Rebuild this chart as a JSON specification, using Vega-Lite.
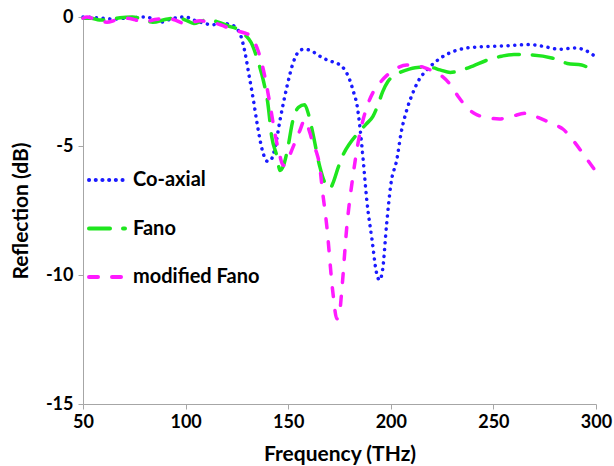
{
  "$schema": "https://vega.github.io/schema/vega-lite/v6.json",
  "width": 513,
  "height": 387,
  "autosize": {"type": "none"},
  "padding": {"left": 83, "top": 17, "right": 18, "bottom": 62},
  "background": "white",
  "config": {
    "view": {"stroke": null},
    "font": "Lato",
    "axis": {
      "grid": false,
      "domainColor": "#a6a6a6",
      "tickColor": "#a6a6a6",
      "tickSize": 5,
      "labelFlush": false,
      "labelFont": "Lato",
      "labelFontWeight": "bold",
      "labelFontSize": 18,
      "labelColor": "black",
      "titleFont": "Lato",
      "titleFontWeight": "bold",
      "titleFontSize": 21,
      "titleColor": "black"
    },
    "legend": {
      "title": null,
      "orient": "none",
      "legendX": 4,
      "legendY": 144,
      "symbolType": "stroke",
      "symbolSize": 1296,
      "symbolStrokeWidth": 4,
      "clipHeight": 38,
      "labelFont": "Lato",
      "labelFontWeight": "bold",
      "labelFontSize": 20,
      "labelColor": "black",
      "labelOffset": 6,
      "rowPadding": 10.5
    }
  },
  "data": {
    "values": [
      {"f": 50, "r": 0, "s": "Co-axial"},
      {"f": 55, "r": -0.02, "s": "Co-axial"},
      {"f": 60, "r": -0.05, "s": "Co-axial"},
      {"f": 65, "r": -0.08, "s": "Co-axial"},
      {"f": 70, "r": -0.05, "s": "Co-axial"},
      {"f": 75, "r": -0.02, "s": "Co-axial"},
      {"f": 81, "r": 0, "s": "Co-axial"},
      {"f": 85, "r": -0.12, "s": "Co-axial"},
      {"f": 88, "r": -0.2, "s": "Co-axial"},
      {"f": 92, "r": -0.1, "s": "Co-axial"},
      {"f": 96, "r": -0.02, "s": "Co-axial"},
      {"f": 100, "r": 0, "s": "Co-axial"},
      {"f": 104, "r": -0.12, "s": "Co-axial"},
      {"f": 108, "r": -0.22, "s": "Co-axial"},
      {"f": 113, "r": -0.3, "s": "Co-axial"},
      {"f": 118, "r": -0.25, "s": "Co-axial"},
      {"f": 122, "r": -0.3, "s": "Co-axial"},
      {"f": 125, "r": -0.45, "s": "Co-axial"},
      {"f": 127, "r": -0.75, "s": "Co-axial"},
      {"f": 129, "r": -1.4, "s": "Co-axial"},
      {"f": 131, "r": -2.3, "s": "Co-axial"},
      {"f": 133, "r": -3.2, "s": "Co-axial"},
      {"f": 135, "r": -4.2, "s": "Co-axial"},
      {"f": 137.5, "r": -5.2, "s": "Co-axial"},
      {"f": 140, "r": -5.6, "s": "Co-axial"},
      {"f": 141.5, "r": -5.55, "s": "Co-axial"},
      {"f": 143.5, "r": -5.1, "s": "Co-axial"},
      {"f": 146, "r": -4.0, "s": "Co-axial"},
      {"f": 149.4, "r": -2.7, "s": "Co-axial"},
      {"f": 152.3, "r": -1.8, "s": "Co-axial"},
      {"f": 155, "r": -1.35, "s": "Co-axial"},
      {"f": 157.5, "r": -1.25, "s": "Co-axial"},
      {"f": 161, "r": -1.3, "s": "Co-axial"},
      {"f": 165, "r": -1.5, "s": "Co-axial"},
      {"f": 169, "r": -1.67, "s": "Co-axial"},
      {"f": 175, "r": -1.85, "s": "Co-axial"},
      {"f": 178, "r": -2.1, "s": "Co-axial"},
      {"f": 180, "r": -2.44, "s": "Co-axial"},
      {"f": 182, "r": -2.95, "s": "Co-axial"},
      {"f": 183.5, "r": -3.4, "s": "Co-axial"},
      {"f": 185, "r": -4.3, "s": "Co-axial"},
      {"f": 186.5, "r": -5.5, "s": "Co-axial"},
      {"f": 188.3, "r": -7.1, "s": "Co-axial"},
      {"f": 190.8, "r": -8.6, "s": "Co-axial"},
      {"f": 193, "r": -9.9, "s": "Co-axial"},
      {"f": 194.5, "r": -10.2, "s": "Co-axial"},
      {"f": 196, "r": -9.8, "s": "Co-axial"},
      {"f": 198, "r": -8.0, "s": "Co-axial"},
      {"f": 200, "r": -6.5, "s": "Co-axial"},
      {"f": 203, "r": -5.5, "s": "Co-axial"},
      {"f": 205, "r": -4.5, "s": "Co-axial"},
      {"f": 207.8, "r": -3.6, "s": "Co-axial"},
      {"f": 210.7, "r": -2.95, "s": "Co-axial"},
      {"f": 214, "r": -2.4, "s": "Co-axial"},
      {"f": 217.6, "r": -2.05, "s": "Co-axial"},
      {"f": 225, "r": -1.55, "s": "Co-axial"},
      {"f": 231, "r": -1.32, "s": "Co-axial"},
      {"f": 237, "r": -1.2, "s": "Co-axial"},
      {"f": 245, "r": -1.15, "s": "Co-axial"},
      {"f": 255, "r": -1.12, "s": "Co-axial"},
      {"f": 268, "r": -1.07, "s": "Co-axial"},
      {"f": 275, "r": -1.15, "s": "Co-axial"},
      {"f": 282, "r": -1.25, "s": "Co-axial"},
      {"f": 290, "r": -1.2, "s": "Co-axial"},
      {"f": 295, "r": -1.3, "s": "Co-axial"},
      {"f": 300, "r": -1.55, "s": "Co-axial"},

      {"f": 50, "r": -0.05, "s": "Fano"},
      {"f": 54, "r": -0.05, "s": "Fano"},
      {"f": 58, "r": -0.12, "s": "Fano"},
      {"f": 63, "r": -0.1, "s": "Fano"},
      {"f": 68, "r": -0.03, "s": "Fano"},
      {"f": 74, "r": 0, "s": "Fano"},
      {"f": 79, "r": -0.08, "s": "Fano"},
      {"f": 84, "r": -0.2, "s": "Fano"},
      {"f": 90, "r": -0.1, "s": "Fano"},
      {"f": 96, "r": -0.03, "s": "Fano"},
      {"f": 100, "r": -0.12, "s": "Fano"},
      {"f": 104, "r": -0.25, "s": "Fano"},
      {"f": 108, "r": -0.15, "s": "Fano"},
      {"f": 111, "r": -0.1, "s": "Fano"},
      {"f": 116, "r": -0.2, "s": "Fano"},
      {"f": 121, "r": -0.35, "s": "Fano"},
      {"f": 126, "r": -0.5, "s": "Fano"},
      {"f": 129, "r": -0.7, "s": "Fano"},
      {"f": 132, "r": -1.0, "s": "Fano"},
      {"f": 134, "r": -1.4, "s": "Fano"},
      {"f": 136, "r": -1.9, "s": "Fano"},
      {"f": 138, "r": -2.5, "s": "Fano"},
      {"f": 140, "r": -3.3, "s": "Fano"},
      {"f": 142, "r": -4.65, "s": "Fano"},
      {"f": 144.5, "r": -5.4, "s": "Fano"},
      {"f": 146, "r": -5.95, "s": "Fano"},
      {"f": 147.5, "r": -5.8, "s": "Fano"},
      {"f": 149.5, "r": -5.2, "s": "Fano"},
      {"f": 152.3, "r": -4.0, "s": "Fano"},
      {"f": 155, "r": -3.5, "s": "Fano"},
      {"f": 158, "r": -3.4, "s": "Fano"},
      {"f": 160, "r": -3.8, "s": "Fano"},
      {"f": 162, "r": -4.5, "s": "Fano"},
      {"f": 165.4, "r": -5.8, "s": "Fano"},
      {"f": 168, "r": -6.45, "s": "Fano"},
      {"f": 170.3, "r": -6.65, "s": "Fano"},
      {"f": 172, "r": -6.4, "s": "Fano"},
      {"f": 174.5, "r": -5.8, "s": "Fano"},
      {"f": 177, "r": -5.3, "s": "Fano"},
      {"f": 180, "r": -4.9, "s": "Fano"},
      {"f": 184, "r": -4.5, "s": "Fano"},
      {"f": 188, "r": -4.15, "s": "Fano"},
      {"f": 191.3, "r": -3.85, "s": "Fano"},
      {"f": 194, "r": -3.35, "s": "Fano"},
      {"f": 196, "r": -2.9, "s": "Fano"},
      {"f": 198.6, "r": -2.5, "s": "Fano"},
      {"f": 201, "r": -2.3, "s": "Fano"},
      {"f": 204.4, "r": -2.15, "s": "Fano"},
      {"f": 209, "r": -2.02, "s": "Fano"},
      {"f": 214, "r": -1.95, "s": "Fano"},
      {"f": 219, "r": -1.95, "s": "Fano"},
      {"f": 224, "r": -2.05, "s": "Fano"},
      {"f": 229, "r": -2.15, "s": "Fano"},
      {"f": 234, "r": -2.07, "s": "Fano"},
      {"f": 240, "r": -1.9, "s": "Fano"},
      {"f": 247, "r": -1.67, "s": "Fano"},
      {"f": 254, "r": -1.52, "s": "Fano"},
      {"f": 260, "r": -1.45, "s": "Fano"},
      {"f": 269, "r": -1.47, "s": "Fano"},
      {"f": 279, "r": -1.6, "s": "Fano"},
      {"f": 286, "r": -1.8, "s": "Fano"},
      {"f": 293, "r": -1.86, "s": "Fano"},
      {"f": 300, "r": -2.2, "s": "Fano"},

      {"f": 50, "r": -0.05, "s": "modified Fano"},
      {"f": 52, "r": 0, "s": "modified Fano"},
      {"f": 56, "r": -0.1, "s": "modified Fano"},
      {"f": 61.7, "r": -0.2, "s": "modified Fano"},
      {"f": 66, "r": -0.12, "s": "modified Fano"},
      {"f": 71.4, "r": -0.05, "s": "modified Fano"},
      {"f": 75, "r": -0.1, "s": "modified Fano"},
      {"f": 79.2, "r": -0.2, "s": "modified Fano"},
      {"f": 85, "r": -0.1, "s": "modified Fano"},
      {"f": 91, "r": -0.05, "s": "modified Fano"},
      {"f": 95, "r": -0.12, "s": "modified Fano"},
      {"f": 98.7, "r": -0.23, "s": "modified Fano"},
      {"f": 103, "r": -0.2, "s": "modified Fano"},
      {"f": 107, "r": -0.15, "s": "modified Fano"},
      {"f": 112, "r": -0.2, "s": "modified Fano"},
      {"f": 117, "r": -0.3, "s": "modified Fano"},
      {"f": 123, "r": -0.5, "s": "modified Fano"},
      {"f": 128, "r": -0.6, "s": "modified Fano"},
      {"f": 131, "r": -0.7, "s": "modified Fano"},
      {"f": 133, "r": -0.9, "s": "modified Fano"},
      {"f": 135.2, "r": -1.28, "s": "modified Fano"},
      {"f": 138.6, "r": -2.3, "s": "modified Fano"},
      {"f": 141, "r": -3.33, "s": "modified Fano"},
      {"f": 143.5, "r": -4.5, "s": "modified Fano"},
      {"f": 146, "r": -5.4, "s": "modified Fano"},
      {"f": 147.5, "r": -5.75, "s": "modified Fano"},
      {"f": 149.5, "r": -5.6, "s": "modified Fano"},
      {"f": 151.8, "r": -5.15, "s": "modified Fano"},
      {"f": 155.7, "r": -4.4, "s": "modified Fano"},
      {"f": 158, "r": -4.0, "s": "modified Fano"},
      {"f": 160.6, "r": -4.5, "s": "modified Fano"},
      {"f": 162, "r": -4.9, "s": "modified Fano"},
      {"f": 164, "r": -5.3, "s": "modified Fano"},
      {"f": 165.4, "r": -5.8, "s": "modified Fano"},
      {"f": 166.5, "r": -6.6, "s": "modified Fano"},
      {"f": 168.8, "r": -8.1, "s": "modified Fano"},
      {"f": 171.8, "r": -10.7, "s": "modified Fano"},
      {"f": 173.7, "r": -11.7, "s": "modified Fano"},
      {"f": 175, "r": -11.5, "s": "modified Fano"},
      {"f": 176, "r": -10.7, "s": "modified Fano"},
      {"f": 178.6, "r": -8.1, "s": "modified Fano"},
      {"f": 181.5, "r": -6.2, "s": "modified Fano"},
      {"f": 184, "r": -4.9, "s": "modified Fano"},
      {"f": 188.3, "r": -3.5, "s": "modified Fano"},
      {"f": 191.5, "r": -2.9, "s": "modified Fano"},
      {"f": 194.7, "r": -2.55, "s": "modified Fano"},
      {"f": 199, "r": -2.2, "s": "modified Fano"},
      {"f": 203, "r": -1.98, "s": "modified Fano"},
      {"f": 207.8, "r": -1.86, "s": "modified Fano"},
      {"f": 212, "r": -1.88, "s": "modified Fano"},
      {"f": 216, "r": -1.95, "s": "modified Fano"},
      {"f": 220.5, "r": -2.1, "s": "modified Fano"},
      {"f": 225, "r": -2.3, "s": "modified Fano"},
      {"f": 228.8, "r": -2.6, "s": "modified Fano"},
      {"f": 233, "r": -3.1, "s": "modified Fano"},
      {"f": 237, "r": -3.5, "s": "modified Fano"},
      {"f": 241, "r": -3.75, "s": "modified Fano"},
      {"f": 245, "r": -3.87, "s": "modified Fano"},
      {"f": 253, "r": -3.95, "s": "modified Fano"},
      {"f": 259, "r": -3.85, "s": "modified Fano"},
      {"f": 266, "r": -3.73, "s": "modified Fano"},
      {"f": 272, "r": -3.9, "s": "modified Fano"},
      {"f": 279, "r": -4.15, "s": "modified Fano"},
      {"f": 284, "r": -4.35, "s": "modified Fano"},
      {"f": 288.7, "r": -4.77, "s": "modified Fano"},
      {"f": 295.5, "r": -5.5, "s": "modified Fano"},
      {"f": 300, "r": -6.0, "s": "modified Fano"}
    ]
  },
  "mark": {"type": "line", "interpolate": "monotone", "strokeCap": "round"},
  "encoding": {
    "x": {
      "field": "f", "type": "quantitative", "title": "Frequency (THz)",
      "scale": {"domain": [50, 300], "nice": false},
      "axis": {"values": [50, 100, 150, 200, 250, 300], "labelPadding": 4, "titlePadding": 12}
    },
    "y": {
      "field": "r", "type": "quantitative", "title": "Reflection (dB)",
      "scale": {"domain": [-15, 0], "nice": false},
      "axis": {"values": [0, -5, -10, -15], "labelPadding": 5, "titlePadding": 14,
               "labelExpr": "datum.value == 0 ? '0' : '-' + abs(datum.value)"}
    },
    "color": {
      "field": "s", "type": "nominal",
      "scale": {"domain": ["Co-axial", "Fano", "modified Fano"], "range": ["#1a1aff", "#1ee61e", "#ff1aff"]},
      "legend": {"encode": {"symbols": {"update": {"strokeCap": {"value": "round"}}}}}
    },
    "strokeDash": {
      "field": "s", "type": "nominal",
      "scale": {"domain": ["Co-axial", "Fano", "modified Fano"], "range": [[0.1, 6.6], [21, 13], [9, 14]]},
      "legend": {"encode": {"symbols": {"update": {"strokeCap": {"value": "round"}}}}}
    },
    "strokeWidth": {"value": 3.5}
  }
}
